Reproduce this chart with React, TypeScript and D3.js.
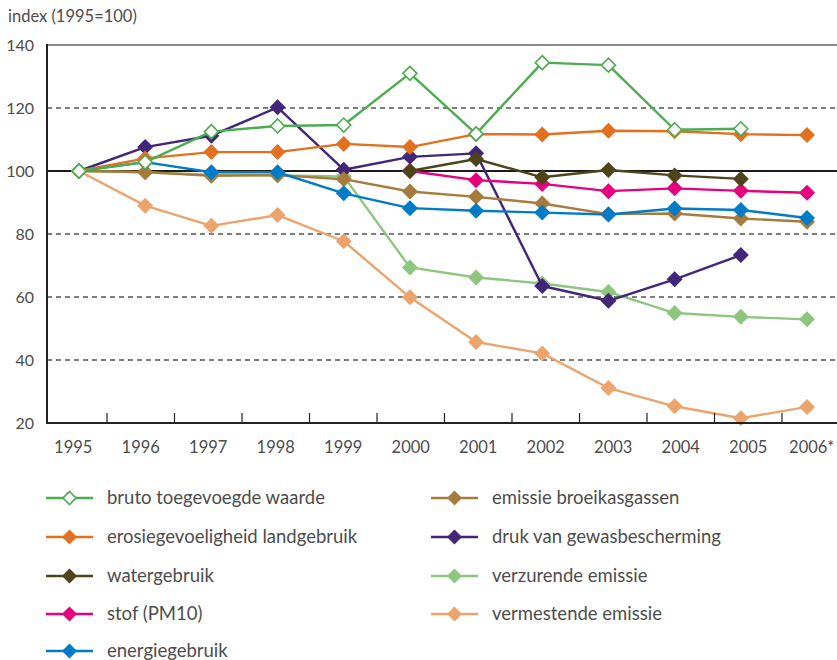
import React from 'react'
import * as d3 from 'd3'

const years = ['1995', '1996', '1997', '1998', '1999', '2000', '2001', '2002', '2003', '2004', '2005', '2006']
const yearLabels = ['1995', '1996', '1997', '1998', '1999', '2000', '2001', '2002', '2003', '2004', '2005', '2006*']
const yTicks = [20, 40, 60, 80, 100, 120, 140]

type V = number | null

const bruto: V[] = [100, 102.8, 112.5, 114.3, 114.6, 131, 111.8, 134.4, 133.6, 113.1, 113.4, null]
const erosie: V[] = [100, 104, 106, 106, 108.6, 107.6, 111.7, 111.6, 112.8, 112.6, 111.7, 111.4]
const water: V[] = [null, null, null, null, null, 100, 103.8, 98, 100.3, 98.6, 97.5, null]
const stof: V[] = [null, null, null, null, null, 100, 97.1, 95.9, 93.6, 94.5, 93.7, 93.1]
const energie: V[] = [100, 102.8, 99.6, 99.6, 92.9, 88.2, 87.4, 86.8, 86.2, 88.1, 87.6, 85.1]
const broeikas: V[] = [100, 99.7, 98.5, 98.7, 97.4, 93.5, 91.8, 89.7, 86.3, 86.5, 84.9, 83.9]
const druk: V[] = [100, 107.6, 111.2, 120.2, 100.4, 104.5, 105.6, 63.5, 58.8, 65.6, 73.3, null]
const verzurend: V[] = [100, 99.5, 98.8, 98.6, 98.3, 69.4, 66.2, 64.3, 61.6, 54.9, 53.7, 52.9]
const vermestend: V[] = [100, 89, 82.6, 86, 77.7, 59.9, 45.7, 42.1, 31.1, 25.3, 21.5, 25.1]

const series = [
  { name: 'bruto toegevoegde waarde', values: bruto, color: '#4aad4f', open: true },
  { name: 'erosiegevoeligheid landgebruik', values: erosie, color: '#e2711f', open: false },
  { name: 'watergebruik', values: water, color: '#4d4419', open: false },
  { name: 'stof (PM10)', values: stof, color: '#e6007e', open: false },
  { name: 'energiegebruik', values: energie, color: '#007bc7', open: false },
  { name: 'emissie broeikasgassen', values: broeikas, color: '#a77b3b', open: false },
  { name: 'druk van gewasbescherming', values: druk, color: '#42267a', open: false },
  { name: 'verzurende emissie', values: verzurend, color: '#8ec67f', open: false },
  { name: 'vermestende emissie', values: vermestend, color: '#eda46c', open: false },
]

// drawing order (bottom first)
const drawOrder = [8, 7, 6, 5, 4, 3, 2, 1, 0]

const FONT = 'Lato, "Open Sans", sans-serif'
const TEXT = '#4d4d4d'

function Diamond({ x, y, color, open, r = 8 }: { x: number; y: number; color: string; open: boolean; r?: number }) {
  const rr = open ? r - 1 : r
  const d = `M${x},${y - rr}L${x + rr},${y}L${x},${y + rr}L${x - rr},${y}Z`
  return open
    ? <path d={d} fill="#fff" stroke={color} strokeWidth={1.6} />
    : <path d={d} fill={color} />
}

export default function App() {
  const width = 837
  const height = 660
  const left = 47
  const right = 837
  const top = 45
  const bottom = 423

  const x = d3.scalePoint<string>().domain(years).range([79, 807])
  const xBand = d3.scaleBand<string>().domain(years).range([39.5, 849.5])
  const y = d3.scaleLinear().domain([20, 140]).range([bottom, top])

  const line = d3.line<V>()
    .defined(d => d !== null)
    .x((_, i) => x(years[i]) as number)
    .y(d => y(d as number))

  const legendRows = [498, 537, 576, 614, 651]

  return (
    <svg width={width} height={height} style={{ position: 'absolute', left: 0, top: 0 }} fontFamily={FONT}>
      <rect width={width} height={height} fill="#fff" />
      <text x={8} y={22} fontSize={16.5} fill={TEXT}>index (1995=100)</text>

      {/* grid */}
      {yTicks.filter(t => t !== 20 && t !== 140 && t !== 100).map(t => (
        <line key={t} x1={left} x2={right} y1={y(t)} y2={y(t)} stroke="#555" strokeWidth={1.3} strokeDasharray="5,4" />
      ))}
      <line x1={left} x2={right} y1={y(140)} y2={y(140)} stroke="#666" strokeWidth={1.3} />
      <line x1={left} x2={right} y1={y(100)} y2={y(100)} stroke="#1a1a1a" strokeWidth={2.2} />

      {/* y labels */}
      {yTicks.map(t => (
        <text key={t} x={34} y={y(t)} dy="0.35em" textAnchor="end" fontSize={16} fill={TEXT}>{t}</text>
      ))}

      {/* series */}
      {drawOrder.map(i => {
        const s = series[i]
        return (
          <g key={s.name}>
            <path d={line(s.values) || ''} fill="none" stroke={s.color} strokeWidth={2.4} strokeLinejoin="round" />
            {s.values.map((v, j) => v === null ? null : (
              <Diamond key={j} x={x(years[j]) as number} y={y(v)} color={s.color} open={s.open} />
            ))}
          </g>
        )
      })}

      {/* axes */}
      <line x1={left} x2={left} y1={top - 1} y2={bottom + 1} stroke="#222" strokeWidth={2} />
      <line x1={left - 1} x2={right} y1={bottom} y2={bottom} stroke="#222" strokeWidth={2} />
      {years.slice(1).map(yr => (
        <line key={yr} x1={xBand(yr)} x2={xBand(yr)} y1={bottom} y2={bottom - 10} stroke="#222" strokeWidth={1.2} />
      ))}
      {years.map((yr, i) => (
        <text key={yr} x={(xBand(yr) as number) + xBand.bandwidth() / 2 + (i === 11 ? -4 : 0)} y={453} textAnchor="middle" fontSize={16.5} fill={TEXT}>{yearLabels[i]}</text>
      ))}

      {/* legend */}
      {series.map((s, i) => {
        const col = i < 5 ? 0 : 1
        const row = i < 5 ? i : i - 5
        const lx = col === 0 ? 46 : 431
        const ly = legendRows[row]
        return (
          <g key={s.name}>
            <line x1={lx} x2={lx + 47} y1={ly} y2={ly} stroke={s.color} strokeWidth={2.4} />
            <Diamond x={lx + 23.5} y={ly} color={s.color} open={s.open} r={7.5} />
            <text x={lx + 61} y={ly} dy="0.35em" fontSize={18.5} fill={TEXT}>{s.name}</text>
          </g>
        )
      })}
    </svg>
  )
}
